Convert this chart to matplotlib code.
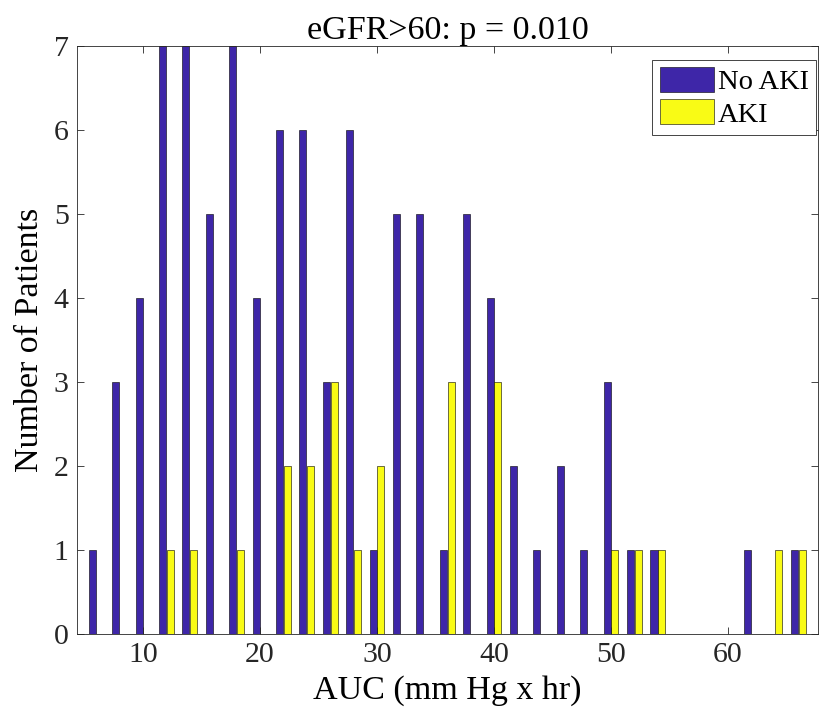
import numpy as np
import matplotlib
matplotlib.use('Agg')
from matplotlib import pyplot as plt

# bin centres (AUC, mm Hg x hr) and patient counts
bins = [6, 8, 10, 12, 14, 16, 18, 20, 22, 24, 26, 28, 30, 32, 34, 36,
        38, 40, 42, 44, 46, 48, 50, 52, 54, 56, 58, 60, 62, 64, 66]
no_aki = [1, 3, 4, 7, 7, 5, 7, 4, 6, 6, 3, 6, 1, 5, 5, 1,
          5, 4, 2, 1, 2, 1, 3, 1, 1, 0, 0, 0, 1, 0, 1]
aki = [0, 0, 0, 1, 1, 0, 1, 0, 2, 2, 3, 1, 2, 0, 0, 3,
       0, 3, 0, 0, 0, 0, 1, 1, 1, 0, 0, 0, 0, 1, 1]

plt.rcParams['font.family'] = ['Liberation Serif', 'DejaVu Serif']

fig = plt.figure(figsize=(8.19, 7.21), dpi=100)
ax = fig.add_axes([0.094, 0.1207, 0.905, 0.815])

x = np.array(bins, dtype=float)
w = 0.6
ax.bar(x - 0.33, no_aki, width=w, color='#3E26A8', edgecolor='black',
       linewidth=0.4, label='No AKI')
ax.bar(x + 0.33, aki, width=w, color='#F9FB15', edgecolor='black',
       linewidth=0.4, label='AKI')

ax.set_xlim(4.36, 67.7)
ax.set_ylim(0, 7)
ax.set_xticks([10, 20, 30, 40, 50, 60])
ax.set_yticks(range(0, 8))
ax.tick_params(direction='in', top=True, right=True, length=5,
               labelsize=21.5, colors='#262626', width=0.6, pad=6)
for sp in ax.spines.values():
    sp.set_color('#262626')
    sp.set_linewidth(0.6)

ax.set_title('eGFR>60: p = 0.010', fontsize=24.5, pad=5)
ax.set_xlabel('AUC (mm Hg x hr)', fontsize=24.5, labelpad=5)
ax.set_ylabel('Number of Patients', fontsize=24.5, labelpad=6)

leg = ax.legend(loc='upper right', bbox_to_anchor=(816 / 819, 1 - 60 / 721),
                bbox_transform=fig.transFigure, fontsize=20.5, fancybox=False,
                handlelength=1.9, handleheight=0.95, handletextpad=0.15,
                labelspacing=0.15, borderpad=0.25, borderaxespad=0,
                framealpha=1)
leg.get_frame().set_edgecolor('#262626')
leg.get_frame().set_linewidth(0.6)

fig.savefig('out.png', dpi=100)
